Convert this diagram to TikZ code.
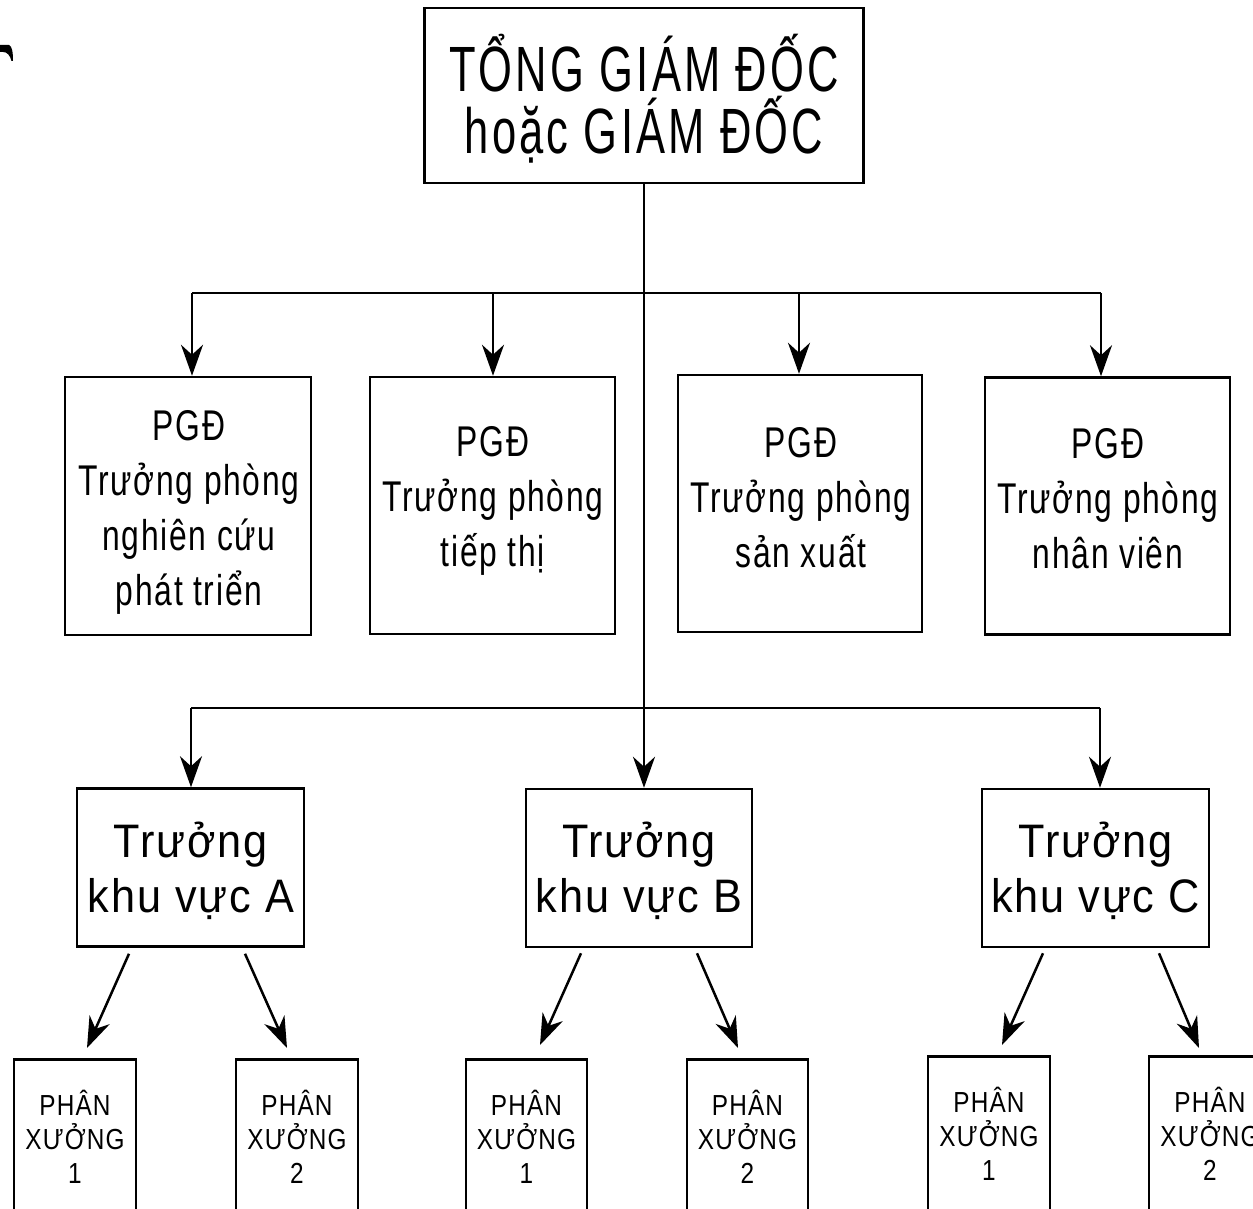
\documentclass[tikz,border=0pt]{standalone}
\usepackage{fontspec}
\setmainfont{Liberation Sans}
\newfontfamily\ftop{Liberation Sans}[FakeStretch=0.68,LetterSpace=5]
\newfontfamily\fmid{Liberation Sans}[FakeStretch=0.74,LetterSpace=4]
\newfontfamily\fkv{Liberation Sans}[FakeStretch=0.92,LetterSpace=4]
\newfontfamily\fbot{Liberation Sans}[FakeStretch=0.84,LetterSpace=4]
\usetikzlibrary{arrows.meta}
\begin{document}
\begin{tikzpicture}[x=1pt,y=-1pt,
  box/.style={draw, line width=2.5pt, inner sep=0pt},
  txt/.style={align=center, inner sep=0pt},
  toptxt/.style={txt, font=\ftop\fontsize{64}{62}\selectfont},
  pgdtxt/.style={txt, font=\fmid\fontsize{43}{55}\selectfont},
  kvtxt/.style={txt, font=\fkv\fontsize{47}{55}\selectfont},
  pxbox/.style={box, align=center, minimum width=122pt, minimum height=156pt, anchor=north,
    font=\fbot\fontsize{29}{34}\selectfont},
  ln/.style={line width=2.5pt},
  arr/.style={line width=2.5pt, -{Stealth[length=31pt,width=22pt,inset=10pt]}}]
\useasboundingbox (0,0) rectangle (1253,1209);
\clip (0,0) rectangle (1253,1209);
\fill[white] (0,0) rectangle (1253,1209);
% fragment at left edge
\fill (0,45) -- (9,45) .. controls (12,46) and (13,52) .. (13,61)
  -- (11.5,61) .. controls (10,55) and (7,52) .. (3,52) -- (0,52) -- cycle;

% top box
\node[box, minimum width=439pt, minimum height=175pt] (T) at (644,95.5) {};
\node[toptxt] (Tt) at (644,99) {TỔNG GIÁM ĐỐC\\hoặc GIÁM ĐỐC};

% deputy directors
\node[box, minimum width=246pt, minimum height=258pt] (P1) at (188,506) {};
\node[box, minimum width=245pt, minimum height=257pt] (P2) at (492.5,505.5) {};
\node[box, minimum width=244pt, minimum height=257pt] (P3) at (800,503.5) {};
\node[box, minimum width=245pt, minimum height=257pt] (P4) at (1107.5,506) {};
\node[pgdtxt] (P1t) at (189,512) {PGĐ\\Trưởng phòng\\nghiên cứu\\phát triển};
\node[pgdtxt] (P2t) at (493,501) {PGĐ\\Trưởng phòng\\tiếp thị};
\node[pgdtxt] (P3t) at (801,498) {PGĐ\\Trưởng phòng\\sản xuất};
\node[pgdtxt] (P4t) at (1108,499) {PGĐ\\Trưởng phòng\\nhân viên};

% area heads
\node[box, minimum width=227pt, minimum height=158pt] (A) at (190.5,867.5) {};
\node[box, minimum width=226pt, minimum height=158pt] (B) at (639,868) {};
\node[box, minimum width=227pt, minimum height=158pt] (C) at (1095.5,868) {};
\node[kvtxt] (At) at (191,871) {Trưởng\\khu vực A};
\node[kvtxt] (Bt) at (639,871) {Trưởng\\khu vực B};
\node[kvtxt] (Ct) at (1095.5,871) {Trưởng\\khu vực C};

% workshops
\node[pxbox] (X1) at (75,1058) {PHÂN\\XƯỞNG\\1};
\node[pxbox] (X2) at (297,1058) {PHÂN\\XƯỞNG\\2};
\node[pxbox, minimum width=121pt] (X3) at (526.5,1058) {PHÂN\\XƯỞNG\\1};
\node[pxbox, minimum width=121pt] (X4) at (747.5,1058) {PHÂN\\XƯỞNG\\2};
\node[pxbox] (X5) at (989,1055) {PHÂN\\XƯỞNG\\1};
\node[pxbox] (X6) at (1210,1055) {PHÂN\\XƯỞNG\\2};

% upper bus
\coordinate (u1) at (192,293);
\coordinate (u2) at (493,293);
\coordinate (u3) at (799,293);
\coordinate (u4) at (1101,293);
\draw[ln] (u1) -- (u4);
\draw[arr] (u1) -- (u1 |- P1.north);
\draw[arr] (u2) -- (u2 |- P2.north);
\draw[arr] (u3) -- (u3 |- P3.north);
\draw[arr] (u4) -- (u4 |- P4.north);

% main trunk and lower bus
\draw[arr] (T.south) -- (T.south |- B.north);
\coordinate (l1) at (191,708);
\coordinate (l3) at (1100,708);
\draw[ln] (l1) -- (l3);
\draw[arr] (l1) -- (l1 |- A.north);
\draw[arr] (l3) -- (l3 |- C.north);

% diagonal arrows
\draw[arr] ([xshift=-61.5pt,yshift=-6pt]A.south) -- ([xshift=12pt,yshift=10pt]X1.north);
\draw[arr] ([xshift=54.5pt,yshift=-6pt]A.south) -- ([xshift=-10pt,yshift=10pt]X2.north);
\draw[arr] ([xshift=-58pt,yshift=-5pt]B.south) -- ([xshift=13.5pt,yshift=13pt]X3.north);
\draw[arr] ([xshift=58pt,yshift=-5pt]B.south) -- ([xshift=-9.5pt,yshift=10pt]X4.north);
\draw[arr] ([xshift=-52.5pt,yshift=-5pt]C.south) -- ([xshift=13pt,yshift=10pt]X5.north);
\draw[arr] ([xshift=63.5pt,yshift=-5pt]C.south) -- ([xshift=-11pt,yshift=7pt]X6.north);
\end{tikzpicture}
\end{document}
